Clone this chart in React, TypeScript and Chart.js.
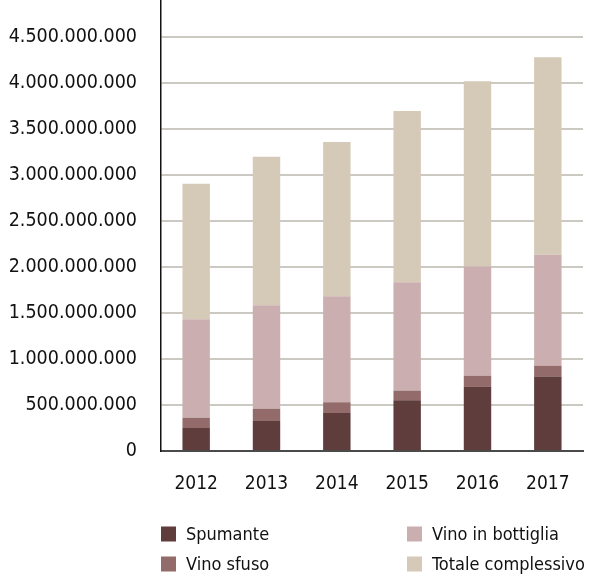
import React, { useEffect, useRef } from "react";
import { Chart, registerables } from "chart.js";

Chart.register(...registerables);

const years = ["2012", "2013", "2014", "2015", "2016", "2017"];
// values in millions of euro
const spumante = [250, 326, 413, 551, 696, 809];
const vinoSfuso = [113, 135, 117, 106, 120, 116];
const vinoBottiglia = [1069, 1124, 1153, 1178, 1190, 1207];
const totaleComplessivo = [1472, 1613, 1675, 1860, 2012, 2147];

const seriesNames = ["Spumante", "Vino sfuso", "Vino in bottiglia", "Totale complessivo"];
const seriesColors = ["#5f3d3d", "#946b6b", "#cbafb0", "#d5cab7"];

const FONT = "'DejaVu Sans Condensed', 'DejaVu Sans', sans-serif";
const OFFSET_TOP = 49;

function fmt(v: number): string {
  const s = Math.round(v).toString();
  return s.replace(/\B(?=(\d{3})+(?!\d))/g, ".");
}

const legendPlugin = {
  id: "customLegend",
  afterDraw(chart: any) {
    const ctx = chart.ctx;
    const area = chart.chartArea;
    const ds = chart.data.datasets;
    const order = [0, 2, 1, 3];
    ctx.save();
    ctx.font = "18px " + FONT;
    ctx.textBaseline = "middle";
    ctx.textAlign = "left";
    order.forEach((idx, i) => {
      const col = i % 2;
      const row = Math.floor(i / 2);
      const x = area.left + col * 246;
      const y = area.bottom + 83 + row * 30;
      ctx.fillStyle = ds[idx].backgroundColor;
      ctx.fillRect(x, y - 7.5, 15, 15);
      ctx.fillStyle = "#111";
      ctx.fillText(ds[idx].label, x + 25, y + 1);
    });
    ctx.restore();
  },
};

export default function App() {
  const ref = useRef<HTMLCanvasElement | null>(null);
  useEffect(() => {
    if (!ref.current) return;
    const toVals = (a: number[]) => a.map((v) => v * 1e6);
    const series = [spumante, vinoSfuso, vinoBottiglia, totaleComplessivo];
    const chart = new Chart(ref.current, {
      type: "bar",
      data: {
        labels: years,
        datasets: series.map((s, i) => ({
          label: seriesNames[i],
          data: toVals(s),
          backgroundColor: seriesColors[i],
          borderWidth: 0,
          barPercentage: 0.39,
          categoryPercentage: 1,
        })),
      },
      options: {
        animation: false,
        responsive: true,
        maintainAspectRatio: false,
        layout: { padding: { top: 40, left: 6, right: 6, bottom: 65 } },
        plugins: { legend: { display: false }, tooltip: { enabled: false } },
        scales: {
          x: {
            stacked: true,
            grid: {
              display: true,
              drawOnChartArea: false,
              drawTicks: true,
              tickLength: 22,
              color: "rgba(0,0,0,0)",
              tickColor: "rgba(0,0,0,0)",
            },
            border: { display: true, color: "#4a4a4a", width: 2 },
            ticks: { color: "#111", font: { family: FONT, size: 19 }, padding: 0 },
            afterFit: (scale: any) => {
              scale.height = 60;
            },
          },
          y: {
            stacked: true,
            min: 0,
            max: 5e9,
            grid: {
              drawTicks: true,
              tickLength: 24,
              tickColor: "rgba(0,0,0,0)",
              lineWidth: 2,
              color: (c: any) => (c.tick && c.tick.value === 0 ? "rgba(0,0,0,0)" : "#ccc8c2"),
            },
            border: { display: true, color: "#111", width: 1.5 },
            ticks: {
              stepSize: 5e8,
              color: "#111",
              font: { family: FONT, size: 19.5 },
              padding: 0,
              callback: (v: any) => fmt(Number(v)),
            },
            afterFit: (scale: any) => {
              scale.width = 155;
            },
          },
        },
      },
      plugins: [legendPlugin],
    });
    return () => chart.destroy();
  }, []);
  return (
    <div style={{ position: "fixed", left: 0, top: 0, width: 589, height: 576, overflow: "hidden", background: "#fff" }}>
      <div style={{ position: "absolute", left: 0, top: -OFFSET_TOP, width: 589, height: 576 + OFFSET_TOP }}>
        <canvas ref={ref} />
      </div>
    </div>
  );
}
